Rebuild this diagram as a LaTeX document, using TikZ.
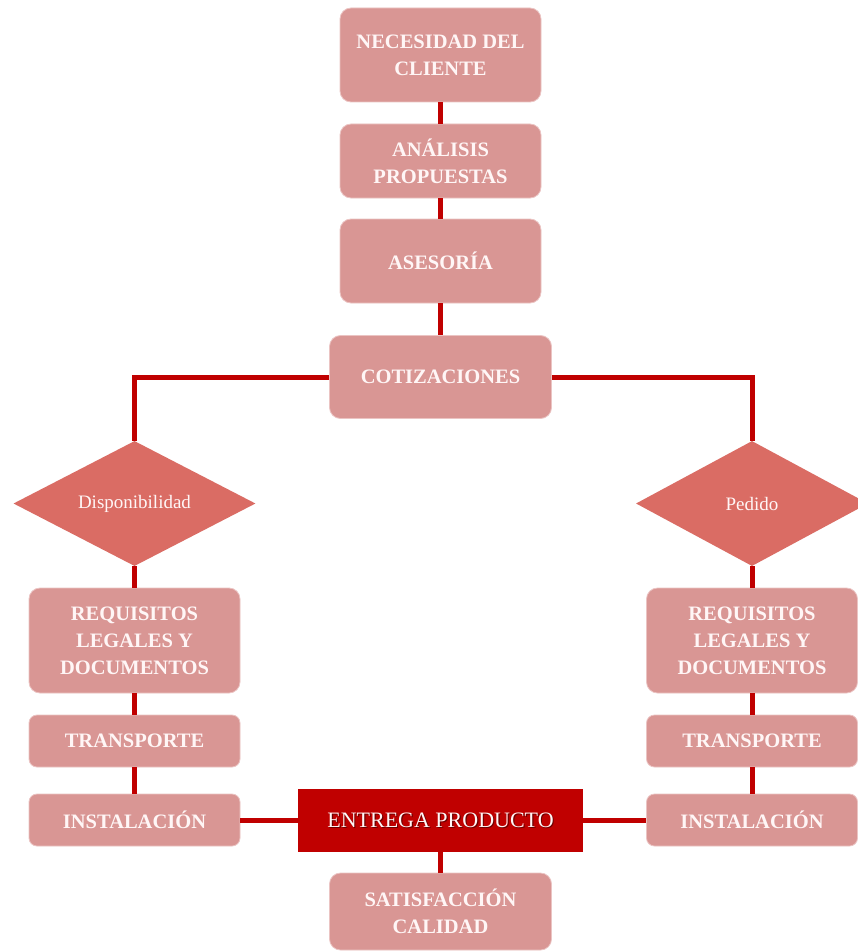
\documentclass[tikz,border=0pt]{standalone}
\usepackage{fontspec}
\setmainfont{Liberation Serif}
\usetikzlibrary{shapes.geometric}
\definecolor{boxfill}{HTML}{D99694}
\definecolor{boxedge}{HTML}{EBC4C3}
\definecolor{diafill}{HTML}{DA6C64}
\definecolor{linered}{HTML}{C00000}
\definecolor{txt}{HTML}{FFF6F6}
\definecolor{shadowc}{HTML}{6A0000}
\tikzset{
  box/.style={rectangle, rounded corners=11pt, fill=boxfill, draw=boxedge, line width=0.8pt,
    text=txt, align=center, inner sep=0pt,
    font=\fontsize{20.5}{27}\selectfont\bfseries},
  dia/.style={diamond, fill=diafill, draw=none, inner sep=0pt, aspect=1.94,
    minimum height=125pt, text=txt,
    font=\fontsize{19}{22}\selectfont},
  conn/.style={draw=linered, line width=5pt},
}
\begin{document}
\begin{tikzpicture}[x=1pt,y=-1pt]
\clip (0,0) rectangle (858,952);
\fill[white] (0,0) rectangle (858,952);
% nodes
\node[box, minimum width=201pt, minimum height=94pt] (nec) at (440.5,55) {NECESIDAD DEL\\CLIENTE};
\node[box, minimum width=201pt, minimum height=74pt] (ana) at (440.5,161) {ANÁLISIS\\PROPUESTAS};
\node[box, minimum width=201pt, minimum height=84pt] (ase) at (440.5,261) {ASESORÍA};
\node[box, minimum width=222pt, minimum height=83pt] (cot) at (440.5,377) {COTIZACIONES};
\node[dia, minimum width=242pt] (dl) at (134.5,503.5) {Disponibilidad};
\node[dia, minimum width=232pt] (dr) at (752,503.5) {Pedido};
\node[box, minimum width=211pt, minimum height=105pt] (reqL) at (134.5,640.5) {REQUISITOS\\LEGALES Y\\DOCUMENTOS};
\node[box, minimum width=211pt, minimum height=52pt, rounded corners=8pt] (trL) at (134.5,741) {TRANSPORTE};
\node[box, minimum width=211pt, minimum height=52pt, rounded corners=8pt] (insL) at (134.5,820) {INSTALACIÓN};
\node[box, minimum width=211pt, minimum height=105pt] (reqR) at (752,640.5) {REQUISITOS\\LEGALES Y\\DOCUMENTOS};
\node[box, minimum width=211pt, minimum height=52pt, rounded corners=8pt] (trR) at (752,741) {TRANSPORTE};
\node[box, minimum width=211pt, minimum height=52pt, rounded corners=8pt] (insR) at (752,820) {INSTALACIÓN};
\node[rectangle, fill=linered, minimum width=285pt, minimum height=63pt, inner sep=0pt] (ent) at (440.5,820) {};
\node[text=shadowc, font=\fontsize{22}{26}\selectfont, inner sep=0pt] (entshadow) at ([xshift=1.2pt,yshift=-1.2pt]ent.center) {ENTREGA PRODUCTO};
\node[text=txt, font=\fontsize{22}{26}\selectfont, inner sep=0pt] (enttext) at (ent.center) {ENTREGA PRODUCTO};
\node[box, minimum width=222pt, minimum height=77pt] (sat) at (440.5,911.5) {SATISFACCIÓN\\CALIDAD};
% connectors
\draw[conn] (nec.south) -- (ana.north);
\draw[conn] (ana.south) -- (ase.north);
\draw[conn] (ase.south) -- (cot.north);
\draw[conn] (cot.west) -| (dl.north);
\draw[conn] (cot.east) -| (dr.north);
\draw[conn] (dl.south) -- (reqL.north);
\draw[conn] (reqL.south) -- (trL.north);
\draw[conn] (trL.south) -- (insL.north);
\draw[conn] (dr.south) -- (reqR.north);
\draw[conn] (reqR.south) -- (trR.north);
\draw[conn] (trR.south) -- (insR.north);
\draw[conn] (insL.east) -- (ent.west);
\draw[conn] (ent.east) -- (insR.west);
\draw[conn] (ent.south) -- (sat.north);
\end{tikzpicture}
\end{document}
